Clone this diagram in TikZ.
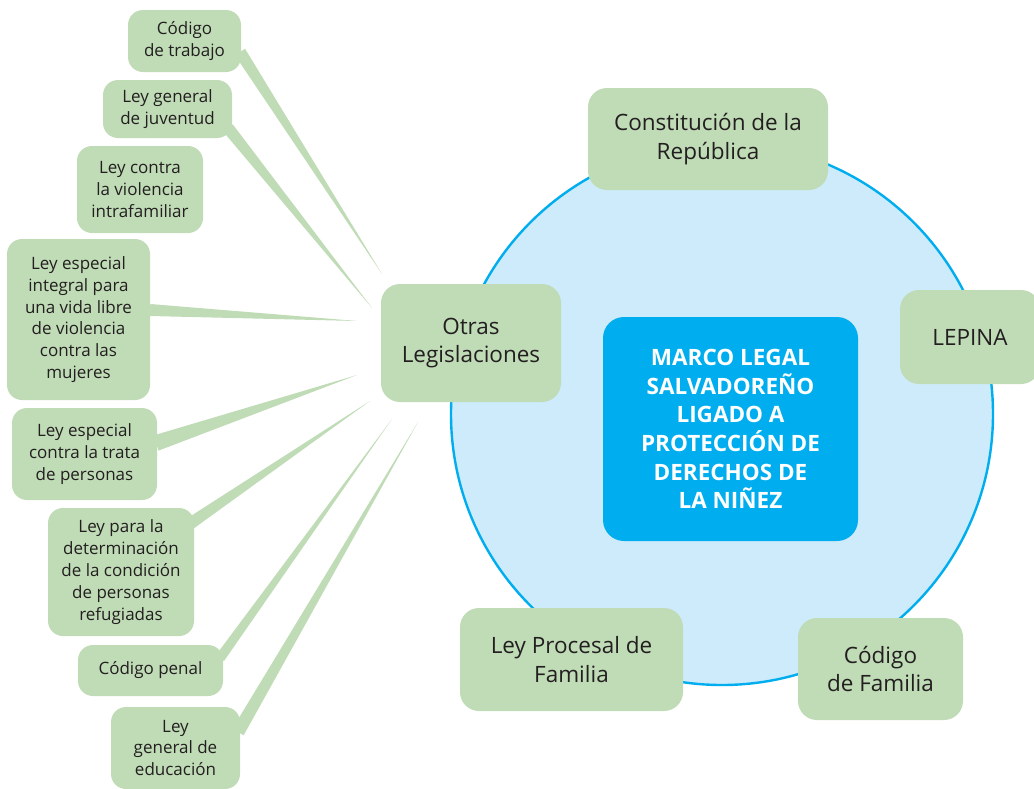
\documentclass[tikz,border=0pt]{standalone}
\usepackage{fontspec}
\setmainfont{Open Sans}
\usetikzlibrary{calc}
\definecolor{boxgreen}{RGB}{192,220,182}
\definecolor{circfill}{RGB}{205,235,250}
\definecolor{cyanline}{RGB}{0,174,239}
\definecolor{txt}{RGB}{35,31,32}
\newcommand\gbx[7]{\node[#6, minimum width={#4-#2}, minimum height={#5-#3}] (#1) at ({(#2+#4)/2},{(#3+#5)/2}) {#7};}
\newcommand\spoke[3]{\fill[spokefill] ($(#1)!#3!90:(#2)$) -- (#2) -- ($(#1)!#3!-90:(#2)$) -- cycle;}
\begin{document}
\begin{tikzpicture}[x=1pt,y=-1pt,
  gbox/.style={fill=boxgreen, inner sep=0pt, align=center, text=txt},
  smallbox/.style={gbox, rounded corners=15pt, font=\fontsize{17}{21.8}\selectfont},
  bigbox/.style={gbox, rounded corners=19pt, font=\fontsize{22.5}{28.5}\selectfont},
  centerbox/.style={fill=cyanline, rounded corners=21pt, inner sep=0pt, align=center, text=white, font=\fontsize{22.5}{28.6}\selectfont\bfseries},
  spokefill/.style={fill=boxgreen}
]
\useasboundingbox (0,0) rectangle (1034,788);
\clip (0,0) rectangle (1034,788);
\fill[white] (0,0) rectangle (1034,788);

% central circle
\node[circle, draw=cyanline, line width=2.4pt, fill=circfill, minimum size=542pt, inner sep=0pt] (circ) at (722,414) {};

% central box
\gbx{mc}{603}{317}{858}{541}{centerbox}{MARCO LEGAL\\SALVADOREÑO\\LIGADO A\\PROTECCIÓN DE\\DERECHOS DE\\LA NIÑEZ}

% big green boxes
\gbx{cr}{588}{88}{828}{190}{bigbox}{Constitución de la\\República}
\gbx{lp}{900}{290}{1040}{384}{bigbox}{LEPINA}
\gbx{cf}{798}{618}{963}{720}{bigbox}{Código\\de Familia}
\gbx{pf}{460}{608}{683}{711}{bigbox}{Ley Procesal de\\Familia}
\gbx{ol}{381}{284}{561}{402}{bigbox}{Otras\\Legislaciones}

% tips of the spokes (around "Otras Legislaciones")
\coordinate (tct) at (382,274);
\coordinate (tjv) at (372,308);
\coordinate (tmu) at (357,321);
\coordinate (ttr) at (357,375);
\coordinate (trf) at (370,401);
\coordinate (tcp) at (392,419);
\coordinate (ted) at (418,422);

% bases of the spokes (on the small boxes)
\coordinate (bct) at (240,52);
\coordinate (bjv) at (228,128);
\coordinate (bmu) at (150,310);
\coordinate (btr) at (156,443);
\coordinate (brf) at (191,523);
\coordinate (bcp) at (220,658);
\coordinate (bed) at (238,732);

% spokes
\spoke{bct}{tct}{6pt}
\spoke{bjv}{tjv}{6pt}
\spoke{bmu}{tmu}{6pt}
\spoke{btr}{ttr}{8pt}
\spoke{brf}{trf}{6pt}
\spoke{bcp}{tcp}{5pt}
\spoke{bed}{ted}{6.5pt}

% small boxes
\gbx{ct}{128}{10}{241}{72}{smallbox}{Código\\de trabajo}
\gbx{jv}{103}{80}{232}{138}{smallbox}{Ley general\\de juventud}
\gbx{vi}{77}{146}{203}{233}{smallbox}{Ley contra\\la violencia\\intrafamiliar}
\gbx{mu}{7}{239}{150}{400}{smallbox}{Ley especial\\integral para\\una vida libre\\de violencia\\contra las\\mujeres}
\gbx{tr}{12}{408}{157}{500}{smallbox}{Ley especial\\contra la trata\\de personas}
\gbx{rf}{48}{508}{194}{636}{smallbox}{Ley para la\\determinación\\de la condición\\de personas\\refugiadas}
\gbx{cp}{78}{645}{223}{696}{smallbox}{Código penal}
\gbx{ed}{111}{707}{240}{789}{smallbox}{Ley\\general de\\educación}
\end{tikzpicture}
\end{document}
